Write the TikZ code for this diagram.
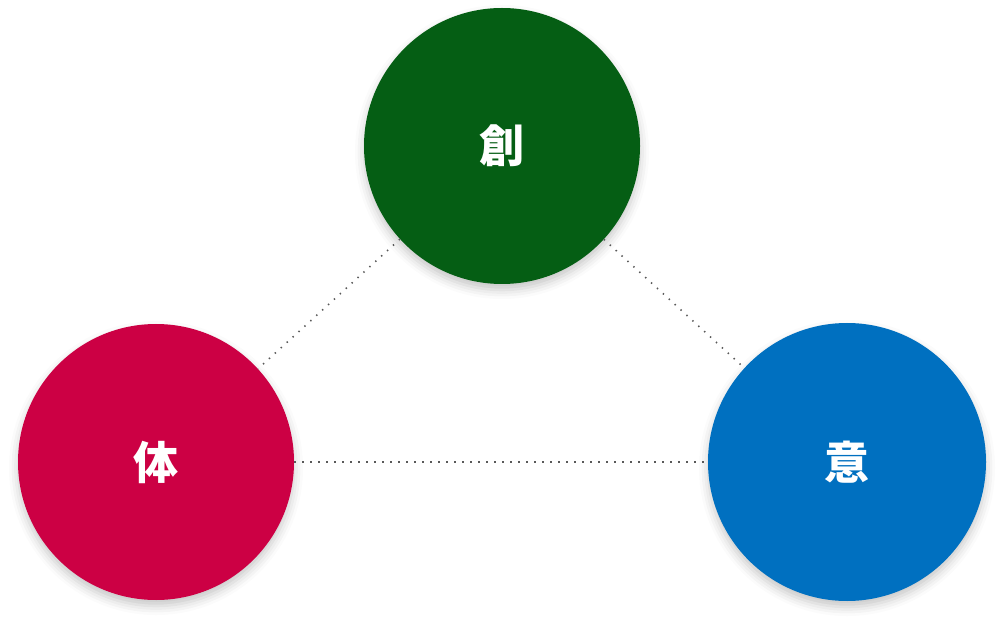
\documentclass[tikz,border=0pt]{standalone}
\usepackage{fontspec}
\newfontfamily\cjk{Noto Sans CJK JP}
\usetikzlibrary{shadows.blur}
\definecolor{sogreen}{RGB}{5,94,20}
\definecolor{sored}{RGB}{204,0,68}
\definecolor{soblue}{RGB}{0,112,192}
\begin{document}
\begin{tikzpicture}[x=1pt,y=-1pt,
  ball/.style={circle,minimum size=276pt,inner sep=0pt,text=white,
    font=\cjk\bfseries\fontsize{45}{45}\selectfont,
    blur shadow={shadow xshift=0pt,shadow yshift=-6pt,shadow blur radius=9pt,shadow opacity=22}},
  link/.style={draw=black!65,line width=1.6pt,dash pattern=on 1.4pt off 6.6pt}]
  \useasboundingbox (0,0) rectangle (1004,628);
  \node[ball,fill=sogreen] (so) at (502,146) {創};
  \node[ball,fill=sored] (tai) at (156,462) {体};
  \node[ball,fill=soblue,minimum size=278pt] (i) at (847,462) {意};
  \draw[link] (so) -- (tai);
  \draw[link] (so) -- (i);
  \draw[link] (tai) -- (i);
\end{tikzpicture}
\end{document}
